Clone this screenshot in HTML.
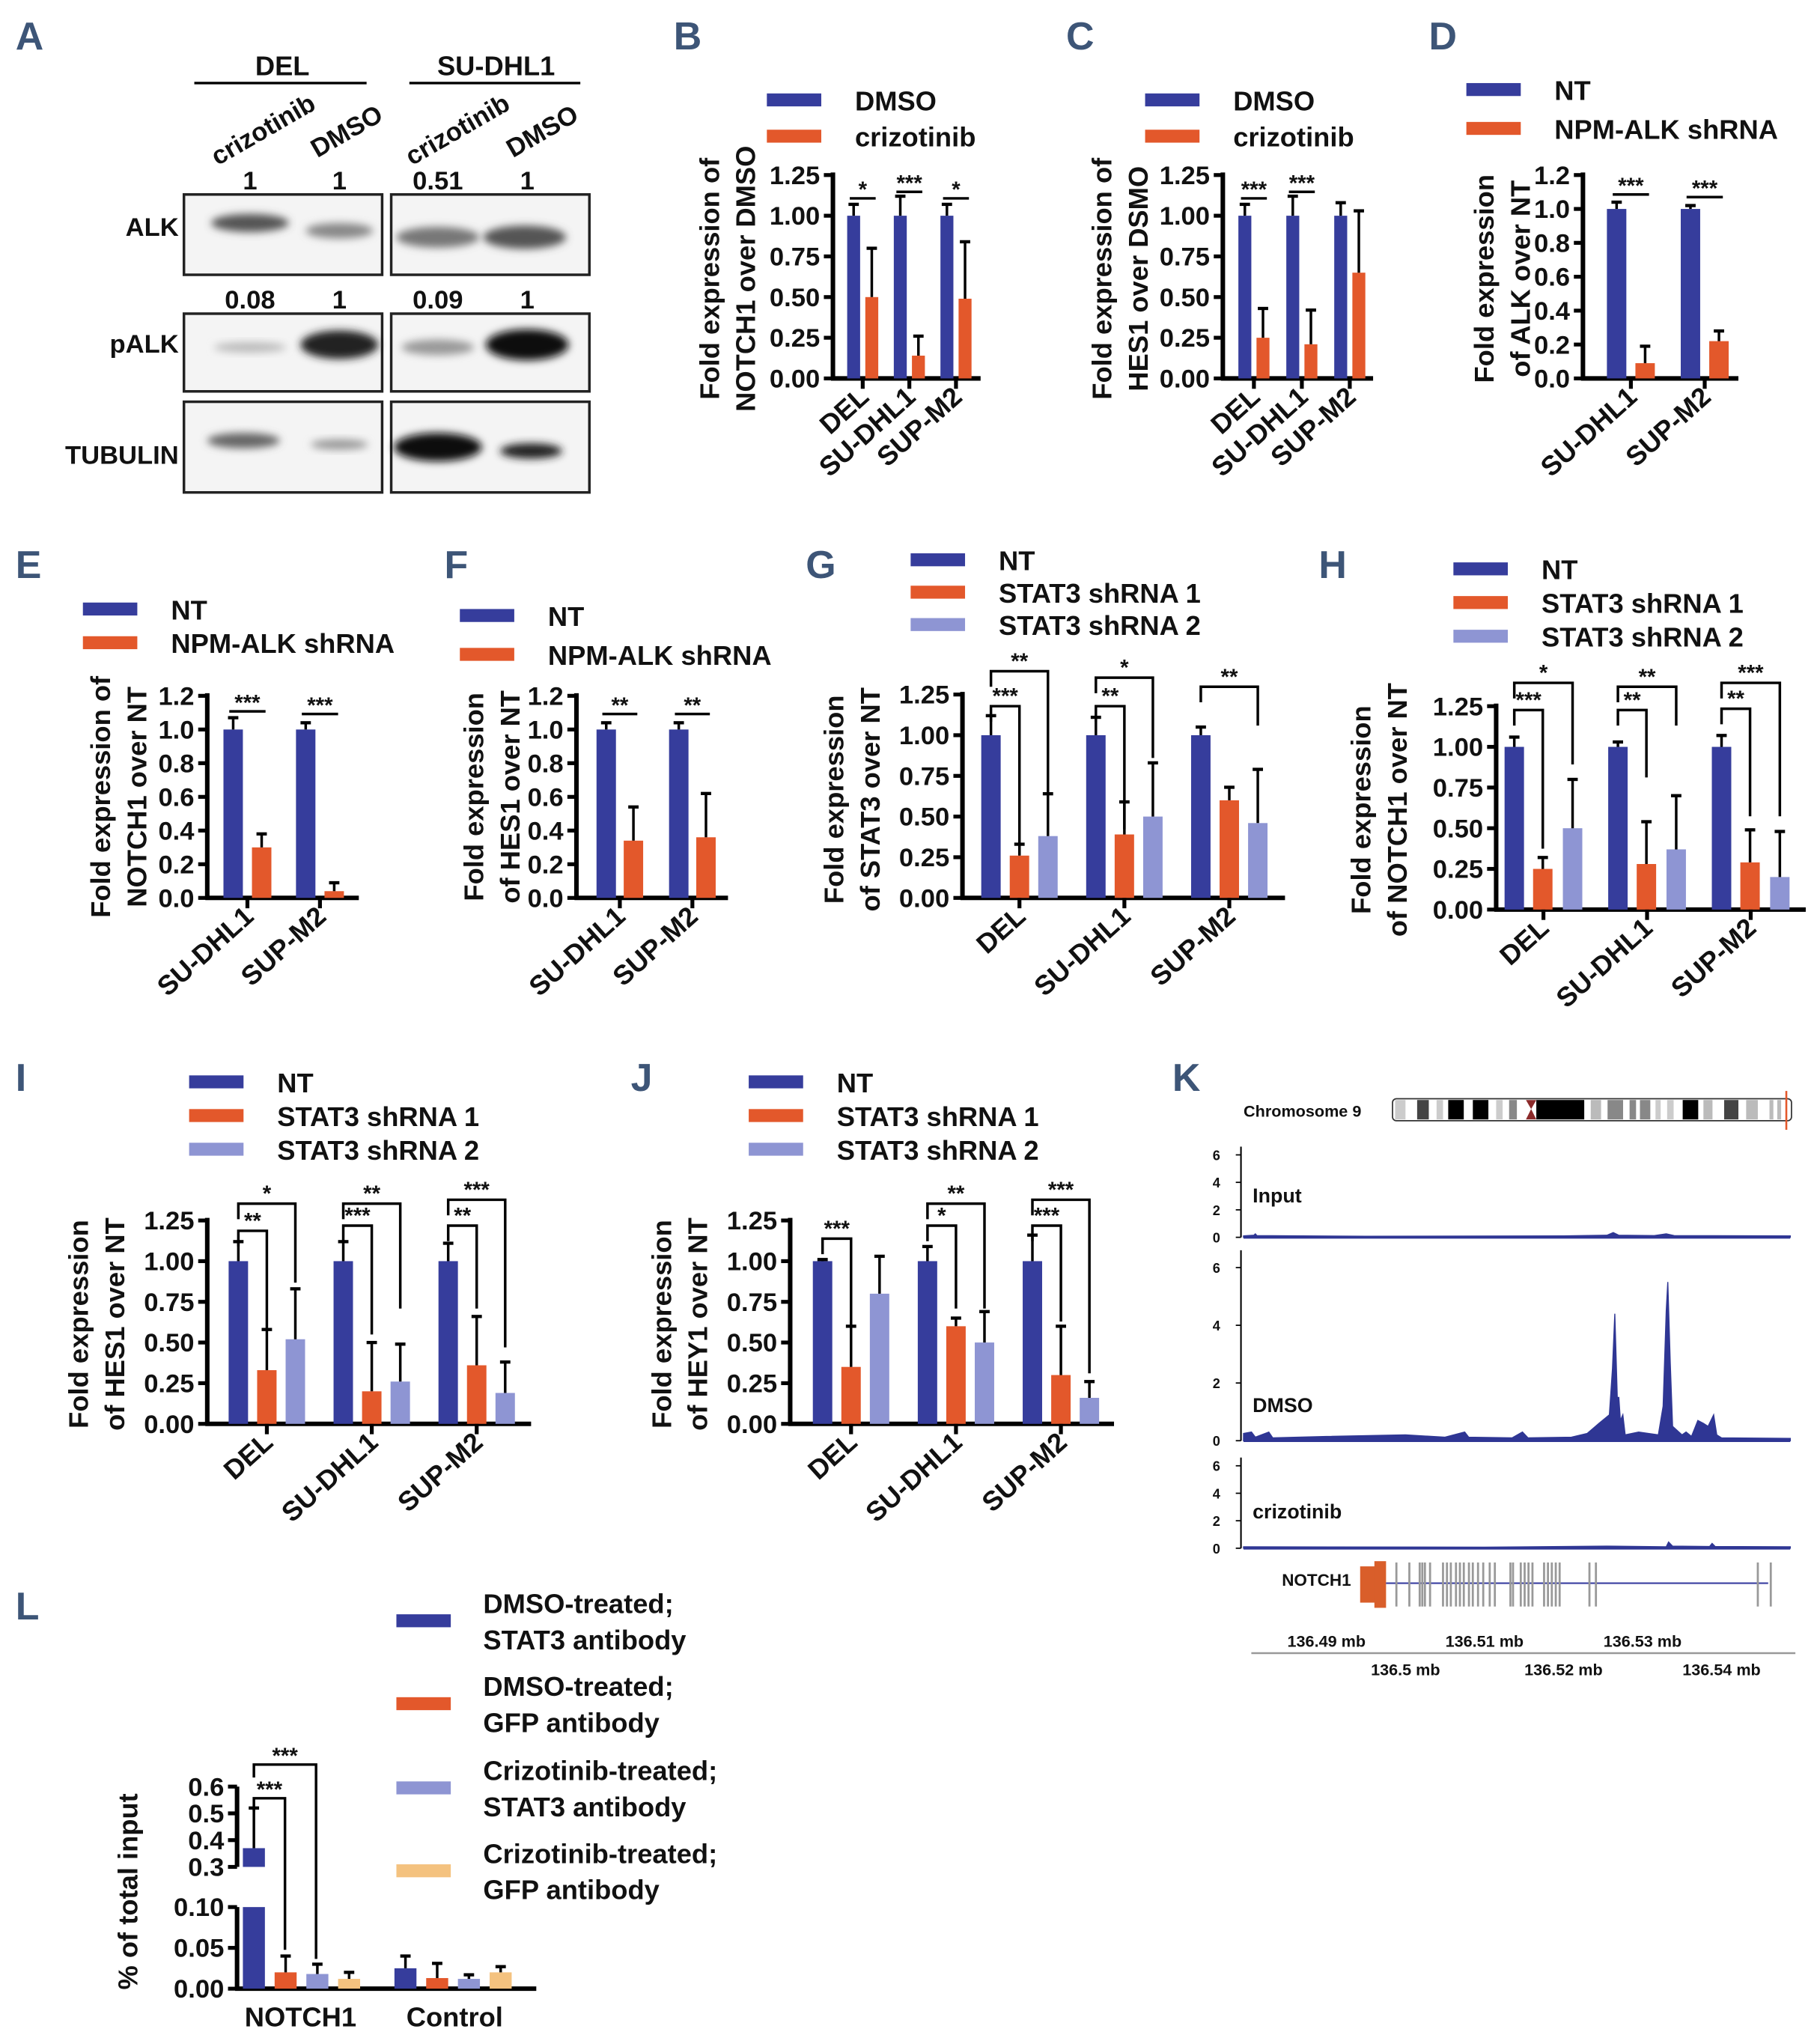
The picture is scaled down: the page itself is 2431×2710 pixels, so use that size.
<!DOCTYPE html>
<html><head><meta charset="utf-8">
<style>
html,body{margin:0;padding:0;background:#fff}
svg{display:block}
text{font-family:"Liberation Sans",Arial,sans-serif;font-weight:bold;fill:#111}
.pl{font-family:"Liberation Sans Narrow","Liberation Sans",sans-serif;fill:#3d5577;font-size:30px;font-weight:bold}
</style></head>
<body>
<svg id="fig" width="2431" height="2710" viewBox="0 0 1405 1566" xmlns="http://www.w3.org/2000/svg">
<defs><filter id="blur" x="-20%" y="-50%" width="140%" height="200%"><feGaussianBlur stdDeviation="3"/></filter></defs>
<g id="root"></g>
</svg>
<script>
// ---------- data ----------
const catsB=["DEL","SU-DHL1","SUP-M2"];
const bDmso=[1,1,1], bDmsoErr=[0.07,0.12,0.07];
const bCriz=[0.5,0.14,0.49], bCrizErr=[0.3,0.12,0.35];
const cDmso=[1,1,1], cDmsoErr=[0.07,0.12,0.08];
const cCriz=[0.25,0.21,0.65], cCrizErr=[0.18,0.21,0.38];
const cats2=["SU-DHL1","SUP-M2"];
const dNT=[1,1], dNTErr=[0.04,0.02], dSh=[0.09,0.22], dShErr=[0.1,0.06];
const eNT=[1,1], eNTErr=[0.07,0.04], eSh=[0.3,0.04], eShErr=[0.08,0.05];
const fNT=[1,1], fNTErr=[0.04,0.04], fSh=[0.34,0.36], fShErr=[0.2,0.26];
const gNT=[1,1,1], gNTErr=[0.12,0.11,0.05], gSh1=[0.26,0.39,0.6], gSh1Err=[0.07,0.2,0.08], gSh2=[0.38,0.5,0.46], gSh2Err=[0.26,0.33,0.33];
const hNT=[1,1,1], hNTErr=[0.06,0.03,0.07], hSh1=[0.25,0.28,0.29], hSh1Err=[0.07,0.26,0.2], hSh2=[0.5,0.37,0.2], hSh2Err=[0.3,0.33,0.28];
const iNT=[1,1,1], iNTErr=[0.12,0.12,0.11], iSh1=[0.33,0.2,0.36], iSh1Err=[0.25,0.3,0.3], iSh2=[0.52,0.26,0.19], iSh2Err=[0.31,0.23,0.19];
const jNT=[1,1,1], jNTErr=[0.01,0.09,0.16], jSh1=[0.35,0.6,0.3], jSh1Err=[0.25,0.05,0.3], jSh2=[0.8,0.5,0.16], jSh2Err=[0.23,0.19,0.1];
const lCats=["NOTCH1","Control"];
const lDS=[0.37,0.025], lDSErr=[0.15,0.015];
const lDG=[0.02,0.013], lDGErr=[0.02,0.018];
const lCS=[0.018,0.012], lCSErr=[0.012,0.005];
const lCG=[0.012,0.02], lCGErr=[0.008,0.007];
const kInput=[[136.4795,0.1],[136.4808,0.15],[136.481,0.25],[136.4812,0.12],[136.495,0.08],[136.52,0.1],[136.5255,0.15],[136.5263,0.35],[136.527,0.15],[136.5315,0.12],[136.533,0.25],[136.534,0.12],[136.5487,0.1]];
const kDmso=[[136.4795,0.25],[136.4805,0.3],[136.481,0.12],[136.4827,0.3],[136.4832,0.1],[136.49,0.15],[136.5,0.2],[136.505,0.12],[136.5075,0.3],[136.508,0.12],[136.5135,0.1],[136.5148,0.3],[136.5155,0.1],[136.521,0.12],[136.523,0.25],[136.5245,0.6],[136.5258,0.9],[136.5262,2.5],[136.5265,4.4],[136.5268,1.5],[136.527,1.5],[136.5272,0.7],[136.5275,0.9],[136.5278,0.2],[136.5295,0.3],[136.532,0.2],[136.5326,1.2],[136.533,4.5],[136.5332,5.5],[136.5335,2.7],[136.5338,0.5],[136.535,0.2],[136.5355,0.3],[136.5362,0.15],[136.537,0.7],[136.5377,0.6],[136.5383,0.5],[136.539,0.9],[136.5394,0.2],[136.54,0.1],[136.5487,0.08]];
const kCriz=[[136.4795,0.1],[136.51,0.08],[136.5255,0.15],[136.533,0.1],[136.5333,0.45],[136.5338,0.15],[136.5385,0.12],[136.5388,0.35],[136.5392,0.12],[136.5487,0.1]];
const kTicksTop=["136.49 mb","136.51 mb","136.53 mb"], kTicksTopV=[136.49,136.51,136.53];
const kTicksBot=["136.5 mb","136.52 mb","136.54 mb"], kTicksBotV=[136.50,136.52,136.54];
const kExons=[136.49885,136.50049,136.5018,136.50213,136.50246,136.50311,136.50475,136.50525,136.50574,136.50639,136.50689,136.50738,136.50803,136.50852,136.50918,136.50984,136.51066,136.51131,136.51328,136.51361,136.51459,136.51508,136.51557,136.51607,136.51754,136.51803,136.51852,136.51902,136.51951,136.52328,136.5241,136.54459,136.54623];

// ---------- helpers ----------
const NS="http://www.w3.org/2000/svg";
const root=document.getElementById('root');
function el(tag,attrs,txt,parent){const e=document.createElementNS(NS,tag);for(const k in attrs)e.setAttribute(k,attrs[k]);if(txt!==undefined)e.textContent=txt;(parent||root).appendChild(e);return e;}
const BLUE="#363d9c",ORANGE="#e3582b",LIGHT="#8e95d3",PEACH="#f4c27f";

function panelLabel(t,x,y){const e=el('text',{x:x,y:y,class:'pl'},t);

}

function legend(g,x,y,dy,items,fs){items.forEach((it,i)=>{
 const r=el('rect',{x:x,y:y+i*dy-5,width:42,height:10,fill:it[1]},undefined,g);
 
 
 const t=el('text',{x:x+68,y:y+i*dy+8,'font-size':fs||21},it[0],g);
 
 });}

function chart(name,c){
 const g=el('g',{});
 
 
 const ys=v=>c.y0-v/c.vmax*(c.y0-c.yTop);
 const ya=el('line',{x1:c.ax,y1:c.y0,x2:c.ax,y2:c.yTop-2,stroke:'#000','stroke-width':3.5},undefined,g);
 
 
 const xa=el('line',{x1:c.ax-1.5,y1:c.y0,x2:c.ax2,y2:c.y0,stroke:'#000','stroke-width':3.5},undefined,g);
 
 
 c.ticks.forEach(t=>{const y=ys(t);
  el('line',{x1:c.ax-7,y1:y,x2:c.ax,y2:y,stroke:'#000','stroke-width':3},undefined,g);
  const tl=el('text',{x:c.ax-10,y:y+7,'text-anchor':'end','font-size':20},t.toFixed(c.dec),g);
  
  });
 const tt=el('text',{transform:`translate(${c.tx},${c.ty}) rotate(-90)`,'text-anchor':'middle','font-size':21},undefined,g);
 
 
 c.title.forEach((ln,i)=>{el('tspan',{x:0,dy:i?28:0},ln,tt);});
 const pos=(gi,si)=>c.c0+gi*c.step+c.offs[si];
 c.cats.forEach((cat,gi)=>{
  c.series.forEach((s,si)=>{
   const x=pos(gi,si),v=s.v[gi],e=s.e[gi];
   const b=el('rect',{x:x-c.bw/2,y:ys(v),width:c.bw,height:c.y0-ys(v),fill:s.col},undefined,g);
   
   
   el('line',{x1:x,y1:ys(v),x2:x,y2:ys(v+e),stroke:'#000','stroke-width':2},undefined,g);
   el('line',{x1:x-4,y1:ys(v+e),x2:x+4,y2:ys(v+e),stroke:'#000','stroke-width':2.5},undefined,g);
  });
  const gc=c.c0+gi*c.step+(c.offs[0]+c.offs[c.offs.length-1])/2;
  el('line',{x1:gc,y1:c.y0,x2:gc,y2:c.y0+8,stroke:'#000','stroke-width':3},undefined,g);
  const cx=c.c0+gi*c.step+(c.lblOff||6);
  const lb=el('text',{transform:`translate(${cx},${c.y0+16}) rotate(-42)`,'text-anchor':'end','font-size':21},cat,g);
  
  
 });
 (c.sig||[]).forEach(s=>{
  const xa=pos(s[0],s[1]),xb=pos(s[0],s[2]);
  if(s[2]-s[1]===1&&s[5]===undefined){
   el('line',{x1:xa-3,y1:s[3],x2:xb+3,y2:s[3],stroke:'#000','stroke-width':2},undefined,g);
   el('text',{x:(xa+xb)/2,y:s[3]-1,'text-anchor':'middle','font-size':17},s[4],g);
  } else {
   el('polyline',{points:`${xa},${s[3]+12} ${xa},${s[3]} ${xb},${s[3]} ${xb},${s[5]}`,fill:'none',stroke:'#000','stroke-width':2},undefined,g);
   el('text',{x:(xa+xb)/2,y:s[3]-2,'text-anchor':'middle','font-size':17},s[4],g);
  }
 });
 if(c.legend)legend(g,c.legend[0],c.legend[1],c.legend[2],c.legend[3]);
}

// ---------- Panel A ----------
(function(){
 panelLabel('A',12,38);
 const g=el('g',{});
 
 
 el('text',{x:218,y:58,'text-anchor':'middle','font-size':21},'DEL',g);
 el('text',{x:383,y:58,'text-anchor':'middle','font-size':21},'SU-DHL1',g);
 el('line',{x1:150,y1:64,x2:283,y2:64,stroke:'#000','stroke-width':2},undefined,g);
 el('line',{x1:316,y1:64,x2:448,y2:64,stroke:'#000','stroke-width':2},undefined,g);
 [['crizotinib',168,128],['DMSO',245,122],['crizotinib',318,128],['DMSO',396,122]].forEach(a=>{
  el('text',{transform:`translate(${a[1]},${a[2]}) rotate(-30)`,'font-size':20},a[0],g);});
 [['1',193,146],['1',262,146],['0.51',338,146],['1',407,146],['0.08',193,238],['1',262,238],['0.09',338,238],['1',407,238]].forEach(a=>{
  el('text',{x:a[1],y:a[2],'text-anchor':'middle','font-size':20},a[0],g);});
 [['ALK',138,182],['pALK',138,272],['TUBULIN',138,358]].forEach(a=>{
  el('text',{x:a[1],y:a[2],'text-anchor':'end','font-size':20},a[0],g);});
 const boxes=[[142,150,153,62],[302,150,153,62],[142,242,153,60],[302,242,153,60],[142,310,153,70],[302,310,153,70]];
 boxes.forEach(b=>el('rect',{x:b[0],y:b[1],width:b[2],height:b[3],fill:'#f4f4f4',stroke:'#222','stroke-width':2},undefined,g));
 const bands=[[193,172,30,7,'#555'],[262,178,26,6,'#888'],[338,183,32,8,'#777'],[405,183,32,9,'#555'],
  [193,268,28,4,'#bbb'],[262,266,30,11,'#222'],[338,268,28,6,'#999'],[407,266,32,12,'#111'],
  [188,340,28,6,'#666'],[262,343,22,4,'#999'],[338,345,34,11,'#111'],[410,348,24,6,'#222']];
 bands.forEach(b=>el('ellipse',{cx:b[0],cy:b[1],rx:b[2],ry:b[3],fill:b[4],filter:'url(#blur)'},undefined,g));
})();

panelLabel('B',520,38);
chart('chart-b',{ax:643,ax2:757,y0:292,yTop:135,vmax:1.25,ticks:[0,0.25,0.5,0.75,1,1.25],dec:2,
 tx:555,ty:215,title:["Fold expression of","NOTCH1 over DMSO"],cats:catsB,c0:666,step:36,offs:[-7,7],bw:10,
 series:[{v:bDmso,e:bDmsoErr,col:BLUE},{v:bCriz,e:bCrizErr,col:ORANGE}],
 sig:[[0,0,1,153,'*'],[1,0,1,148,'***'],[2,0,1,153,'*']],
 legend:[592,77,28,[["DMSO",BLUE],["crizotinib",ORANGE]]]});
panelLabel('C',823,38);
chart('chart-c',{ax:944,ax2:1060,y0:292,yTop:135,vmax:1.25,ticks:[0,0.25,0.5,0.75,1,1.25],dec:2,
 tx:858,ty:215,title:["Fold expression of","HES1 over DSMO"],cats:catsB,c0:968,step:37,offs:[-7,7],bw:10,
 series:[{v:cDmso,e:cDmsoErr,col:BLUE},{v:cCriz,e:cCrizErr,col:ORANGE}],
 sig:[[0,0,1,153,'***'],[1,0,1,148,'***']],
 legend:[884,77,28,[["DMSO",BLUE],["crizotinib",ORANGE]]]});
panelLabel('D',1103,38);
chart('chart-d',{ax:1222,ax2:1342,y0:292,yTop:135,vmax:1.2,ticks:[0,0.2,0.4,0.6,0.8,1,1.2],dec:1,
 tx:1153,ty:215,title:["Fold expression","of ALK over NT"],cats:cats2,c0:1259,step:57,offs:[-11,11],bw:15,
 series:[{v:dNT,e:dNTErr,col:BLUE},{v:dSh,e:dShErr,col:ORANGE}],
 sig:[[0,0,1,150,'***'],[1,0,1,152,'***']],
 legend:[1132,69,30,[["NT",BLUE],["NPM-ALK shRNA",ORANGE]]]});
panelLabel('E',12,446);
chart('chart-e',{ax:160,ax2:277,y0:693,yTop:537,vmax:1.2,ticks:[0,0.2,0.4,0.6,0.8,1,1.2],dec:1,
 tx:85,ty:615,title:["Fold expression of","NOTCH1 over NT"],cats:cats2,c0:191,step:56,offs:[-11,11],bw:15,
 series:[{v:eNT,e:eNTErr,col:BLUE},{v:eSh,e:eShErr,col:ORANGE}],
 sig:[[0,0,1,549,'***'],[1,0,1,551,'***']],
 legend:[64,470,26,[["NT",BLUE],["NPM-ALK shRNA",ORANGE]]]});
panelLabel('F',343,446);
chart('chart-f',{ax:445,ax2:562,y0:693,yTop:537,vmax:1.2,ticks:[0,0.2,0.4,0.6,0.8,1,1.2],dec:1,
 tx:373,ty:615,title:["Fold expression","of HES1 over NT"],cats:cats2,c0:478,step:56,offs:[-10,11],bw:15,
 series:[{v:fNT,e:fNTErr,col:BLUE},{v:fSh,e:fShErr,col:ORANGE}],
 sig:[[0,0,1,551,'**'],[1,0,1,551,'**']],
 legend:[355,475,30,[["NT",BLUE],["NPM-ALK shRNA",ORANGE]]]});
panelLabel('G',622,446);
chart('chart-g',{ax:743,ax2:992,y0:693,yTop:536,vmax:1.25,ticks:[0,0.25,0.5,0.75,1,1.25],dec:2,
 tx:651,ty:617,title:["Fold expression","of STAT3 over NT"],cats:catsB,c0:787,step:81,offs:[-22,0,22],bw:15,
 series:[{v:gNT,e:gNTErr,col:BLUE},{v:gSh1,e:gSh1Err,col:ORANGE},{v:gSh2,e:gSh2Err,col:LIGHT}],
 sig:[[0,0,1,545,'***',660],[0,0,2,518,'**',612],[1,0,1,545,'**',640],[1,0,2,523,'*',585],[2,0,2,530,'**',560]],
 legend:[703,432,25,[["NT",BLUE],["STAT3 shRNA 1",ORANGE],["STAT3 shRNA 2",LIGHT]]]});
panelLabel('H',1018,446);
chart('chart-h',{ax:1155,ax2:1394,y0:702,yTop:545,vmax:1.25,ticks:[0,0.25,0.5,0.75,1,1.25],dec:2,
 tx:1058,ty:625,title:["Fold expression","of NOTCH1 over NT"],cats:catsB,c0:1191,step:80,offs:[-22,0,23],bw:15,
 series:[{v:hNT,e:hNTErr,col:BLUE},{v:hSh1,e:hSh1Err,col:ORANGE},{v:hSh2,e:hSh2Err,col:LIGHT}],
 sig:[[0,0,1,548,'***',655],[0,0,2,527,'*',590],[1,0,1,548,'**',600],[1,0,2,530,'**',560],[2,0,1,547,'**',630],[2,0,2,527,'***',630]],
 legend:[1122,439,26,[["NT",BLUE],["STAT3 shRNA 1",ORANGE],["STAT3 shRNA 2",LIGHT]]]});
panelLabel('I',12,842);
chart('chart-i',{ax:160,ax2:410,y0:1099,yTop:942,vmax:1.25,ticks:[0,0.25,0.5,0.75,1,1.25],dec:2,
 tx:68,ty:1022,title:["Fold expression","of HES1 over NT"],cats:catsB,c0:206,step:81,offs:[-22,0,22],bw:15,
 series:[{v:iNT,e:iNTErr,col:BLUE},{v:iSh1,e:iSh1Err,col:ORANGE},{v:iSh2,e:iSh2Err,col:LIGHT}],
 sig:[[0,0,1,950,'**',1025],[0,0,2,929,'*',990],[1,0,1,946,'***',1030],[1,0,2,929,'**',1010],[2,0,1,946,'**',1010],[2,0,2,926,'***',1040]],
 legend:[146,835,26,[["NT",BLUE],["STAT3 shRNA 1",ORANGE],["STAT3 shRNA 2",LIGHT]]]});
panelLabel('J',487,842);
chart('chart-j',{ax:610,ax2:860,y0:1099,yTop:942,vmax:1.25,ticks:[0,0.25,0.5,0.75,1,1.25],dec:2,
 tx:518,ty:1022,title:["Fold expression","of HEY1 over NT"],cats:catsB,c0:657,step:81,offs:[-22,0,22],bw:15,
 series:[{v:jNT,e:jNTErr,col:BLUE},{v:jSh1,e:jSh1Err,col:ORANGE},{v:jSh2,e:jSh2Err,col:LIGHT}],
 sig:[[0,0,1,956,'***',1025],[1,0,1,946,'*',1010],[1,0,2,929,'**',1010],[2,0,1,946,'***',1020],[2,0,2,926,'***',1060]],
 legend:[578,835,26,[["NT",BLUE],["STAT3 shRNA 1",ORANGE],["STAT3 shRNA 2",LIGHT]]]});

// ---------- L ----------
(function(){
 panelLabel('L',12,1250);
 const g=el('g',{});
 
 
 const ax=183, y0=1535, yL=1472, yU0=1441, yU1=1379;
 const ys=v=> v<=0.1 ? y0-v/0.1*(y0-yL) : yU0-(v-0.3)/0.3*(yU0-yU1);
 el('line',{x1:ax,y1:y0,x2:ax,y2:yL,stroke:'#000','stroke-width':3.5},undefined,g);
 el('line',{x1:ax,y1:yU0,x2:ax,y2:yU1,stroke:'#000','stroke-width':3.5},undefined,g);
 el('line',{x1:ax-1.5,y1:y0,x2:414,y2:y0,stroke:'#000','stroke-width':3.5},undefined,g);
 [0,0.05,0.1].forEach(t=>{el('line',{x1:ax-7,y1:ys(t),x2:ax,y2:ys(t),stroke:'#000','stroke-width':3},undefined,g);
  el('text',{x:ax-10,y:ys(t)+7,'text-anchor':'end','font-size':20},t.toFixed(2),g);});
 [0.3,0.4,0.5,0.6].forEach(t=>{el('line',{x1:ax-7,y1:ys(t),x2:ax,y2:ys(t),stroke:'#000','stroke-width':3},undefined,g);
  el('text',{x:ax-10,y:ys(t)+7,'text-anchor':'end','font-size':20},t.toFixed(1),g);});
 el('text',{transform:'translate(106,1460) rotate(-90)','text-anchor':'middle','font-size':21},'% of total input',g);
 const series=[[lDS,lDSErr,BLUE],[lDG,lDGErr,ORANGE],[lCS,lCSErr,LIGHT],[lCG,lCGErr,PEACH]];
 lCats.forEach((cat,gi)=>{
  series.forEach((s,si)=>{
   const x=196+gi*117+si*24.5, v=s[0][gi], e=s[1][gi];
   let b;
   if(v<=0.1){b=el('rect',{x:x-8.5,y:ys(v),width:17,height:y0-ys(v),fill:s[2]},undefined,g);}
   else{b=el('rect',{x:x-8.5,y:yL,width:17,height:y0-yL,fill:s[2]},undefined,g);
    el('rect',{x:x-8.5,y:ys(v),width:17,height:yU0-ys(v),fill:s[2]},undefined,g);}
   
   
   el('line',{x1:x,y1:ys(v),x2:x,y2:ys(v+e),stroke:'#000','stroke-width':2},undefined,g);
   el('line',{x1:x-4,y1:ys(v+e),x2:x+4,y2:ys(v+e),stroke:'#000','stroke-width':2.5},undefined,g);
  });
  el('text',{x:232+gi*119,y:1564,'text-anchor':'middle','font-size':21},cat,g);
 });
 el('polyline',{points:'196,1372 196,1362 244,1362 244,1512',fill:'none',stroke:'#000','stroke-width':2},undefined,g);
 el('text',{x:220,y:1361,'text-anchor':'middle','font-size':17},'***',g);
 el('polyline',{points:'196,1398 196,1388 220,1388 220,1505',fill:'none',stroke:'#000','stroke-width':2},undefined,g);
 el('text',{x:208,y:1387,'text-anchor':'middle','font-size':17},'***',g);
 const lg=[["DMSO-treated;","STAT3 antibody",BLUE,1251],["DMSO-treated;","GFP antibody",ORANGE,1315],["Crizotinib-treated;","STAT3 antibody",LIGHT,1380],["Crizotinib-treated;","GFP antibody",PEACH,1444]];
 lg.forEach(l=>{const r=el('rect',{x:306,y:l[3]-5,width:42,height:10,fill:l[2]},undefined,g);
  
  
  const t=el('text',{x:373,y:l[3]-6,'font-size':21},l[0],g);
  
  
  el('text',{x:373,y:l[3]+22,'font-size':21},l[1],g);});
})();

// ---------- K ----------
(function(){
 panelLabel('K',905,842);
 const g=el('g',{});
 
 
 const xs=mb=>1085+(mb-136.5)*6100;
 el('text',{x:960,y:862,'font-size':12.5},'Chromosome 9',g);
 const ideo=el('g',{},undefined,g);
 
 
 el('rect',{x:1075,y:848,width:308,height:17,rx:3,fill:'#fff',stroke:'#333','stroke-width':1},undefined,ideo);
 [[1077,8,'#ccc'],[1094,9,'#444'],[1109,5,'#ccc'],[1118,12,'#000'],[1137,12,'#000'],[1155,5,'#ccc'],[1165,6,'#888'],[1186,37,'#000'],[1228,8,'#bbb'],[1241,12,'#888'],[1258,5,'#888'],[1266,8,'#888'],[1278,4,'#ccc'],[1287,5,'#ccc'],[1299,12,'#000'],[1315,7,'#bbb'],[1331,11,'#444'],[1348,9,'#bbb'],[1366,3,'#bbb'],[1372,3,'#bbb']].forEach(b=>
  el('rect',{x:b[0],y:849,width:b[1],height:15,fill:b[2]},undefined,ideo));
 el('polygon',{points:'1178,849 1186,849 1182,856 1186,864 1178,864 1182,856',fill:'#8b2a2a'},undefined,ideo);
 el('line',{x1:1379,y1:842,x2:1379,y2:872,stroke:'#e3582b','stroke-width':1.5},undefined,ideo);
 const tracks=[["Input",kInput,885,955,928],["DMSO",kDmso,965,1112,1090],["crizotinib",kCriz,1125,1195,1172]];
 tracks.forEach(t=>{
  const tg=el('g',{},undefined,g);
  
  
  const top=t[2],bot=t[3],ys=v=>bot-v/6.6*(bot-top);
  el('line',{x1:958,y1:top,x2:958,y2:bot,stroke:'#000','stroke-width':1.2},undefined,tg);
  [0,2,4,6].forEach(v=>{el('line',{x1:954,y1:ys(v),x2:958,y2:ys(v),stroke:'#000'},undefined,tg);
   el('text',{x:942,y:ys(v)+4,'text-anchor':'end','font-size':10.5},v,tg);});
  el('text',{x:967,y:t[4],'font-size':15.5},t[0],tg);
  let pts=`${xs(t[1][0][0])},${bot} `+t[1].map(p=>`${xs(p[0]).toFixed(1)},${ys(p[1]).toFixed(1)}`).join(' ')+` ${xs(t[1][t[1].length-1][0])},${bot}`;
  el('polygon',{points:pts,fill:'#2f3694',stroke:'#2f3694','stroke-width':0.8},undefined,tg);
  el('line',{x1:960,y1:bot,x2:1382,y2:bot,stroke:'#2f3694','stroke-width':2},undefined,tg);
 });
 const gn=el('g',{},undefined,g);
 
 
 el('text',{x:1043,y:1224,'text-anchor':'end','font-size':13},'NOTCH1',gn);
 el('rect',{x:1050,y:1209,width:12,height:28,fill:'#d95e2a'},undefined,gn);
 el('rect',{x:1061,y:1205,width:9,height:36,fill:'#d95e2a'},undefined,gn);
 el('line',{x1:1070,y1:1222,x2:1365,y2:1222,stroke:'#3a3fa0','stroke-width':1.2},undefined,gn);
 kExons.forEach(m=>el('line',{x1:xs(m),y1:1206,x2:xs(m),y2:1240,stroke:'#999','stroke-width':1.6},undefined,gn));
 el('line',{x1:966,y1:1276,x2:1386,y2:1276,stroke:'#999','stroke-width':1.5},undefined,g);
 kTicksTop.forEach((t,i)=>el('text',{x:xs(kTicksTopV[i]),y:1271,'text-anchor':'middle','font-size':12.5},t,g));
 kTicksBot.forEach((t,i)=>el('text',{x:xs(kTicksBotV[i]),y:1293,'text-anchor':'middle','font-size':12.5},t,g));
})();
</script>
</body></html>
